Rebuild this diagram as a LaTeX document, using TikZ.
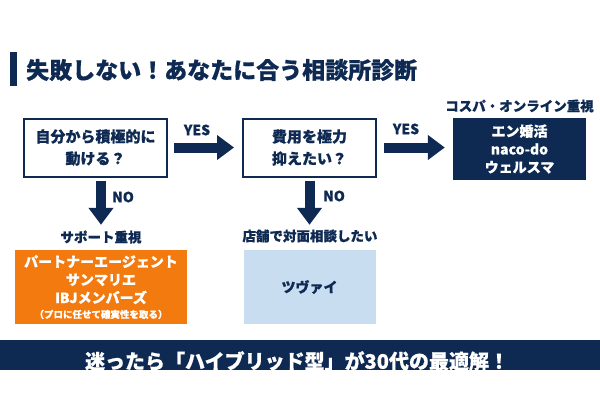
\documentclass[tikz,border=0pt]{standalone}
\usepackage{fontspec}
\setmainfont{Noto Sans CJK JP}[BoldFeatures={FakeBold=0.6}]
\usetikzlibrary{arrows.meta}
\definecolor{navy}{HTML}{0E2A52}
\definecolor{orng}{HTML}{F27A0E}
\definecolor{lblue}{HTML}{C9DDF1}
\tikzset{
  qbox/.style={draw=navy, line width=2pt, fill=white, minimum width=143pt, minimum height=58pt, inner sep=0pt, align=center, font=\fontsize{15}{22}\selectfont\bfseries, text=navy},
  resbox/.style={minimum width=133pt, inner sep=0pt, align=center, font=\fontsize{14}{18}\selectfont\bfseries},
  captxt/.style={font=\fontsize{13.5}{16}\selectfont\bfseries, text=navy, inner sep=0pt},
  yn/.style={font=\fontsize{14}{16}\selectfont\bfseries, text=navy, inner sep=0pt},
  barrow/.style={draw=navy, line width=10pt, -{Triangle[width=24pt,length=17pt]}},
}
\begin{document}
\begin{tikzpicture}[x=1pt,y=-1pt]
\useasboundingbox[fill=white] (0,0) rectangle (600,400);
% title
\fill[navy] (10,52) rectangle (16.5,86);
\node[anchor=west, font=\fontsize{23}{25}\selectfont\bfseries, text=navy, inner sep=0pt] (title) at (26,70) {失敗しない！あなたに合う相談所診断};
% question boxes
\node[qbox] (q1) at (95.5,147.5) {自分から積極的に\\動ける？};
\node[qbox, minimum width=133pt] (q2) at (309.5,147.5) {費用を極力\\抑えたい？};
% top-right result
\node[resbox, fill=navy, text=white, minimum height=62pt] (r1) at (519.5,149) {エン婚活\\naco-do\\ウェルスマ};
\node[captxt] (c1) at (519.5,106) {コスパ・オンライン重視};
% bottom results
\node[resbox, fill=orng, text=white, minimum width=172pt, minimum height=74pt] (r2) at (101,287) {パートナーエージェント\\サンマリエ\\IBJメンバーズ\\[-3pt]{\fontsize{9.5}{12}\selectfont （プロに任せて確実性を取る）}};
\node[captxt] (c2) at (101,237) {サポート重視};
\node[resbox, fill=lblue, text=navy, minimum width=132pt, minimum height=74pt] (r3) at (309.5,287) {ツヴァイ};
\node[captxt] (c3) at (310,236) {店舗で対面相談したい};
% arrows
\draw[barrow, shorten <=6pt, shorten >=8pt] (q1.east) -- (q2.west);
\draw[barrow, shorten <=7pt, shorten >=8pt] (q2.east) -- (r1.west |- q2.east);
\draw[barrow, shorten <=3pt, shorten >=25pt] (r2.north |- q1.south) -- (r2.north);
\draw[barrow, shorten <=3pt, shorten >=25pt] (r3.north |- q2.south) -- (r3.north);
% labels
\node[yn] (y1) at (197,130) {YES};
\node[yn] (y2) at (406,129) {YES};
\node[yn] (n1) at (123,197) {NO};
\node[yn] (n2) at (334,196) {NO};
% bottom band
\begin{scope}
\clip (0,339.5) rectangle (600,369.5);
\fill[navy] (0,339.5) rectangle (600,369.5);
\node[font=\fontsize{20}{22}\selectfont\bfseries, text=white, inner sep=0pt] (band) at (297,361) {迷ったら「ハイブリッド型」が30代の最適解！};
\end{scope}
\end{tikzpicture}
\end{document}
